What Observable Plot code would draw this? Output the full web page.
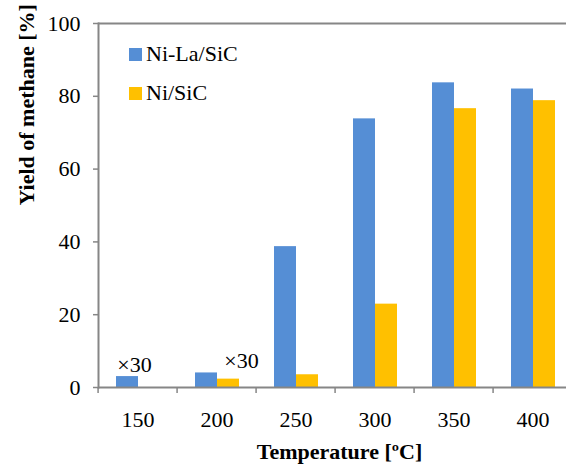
<!DOCTYPE html>
<html><head><meta charset="utf-8">
<script src="https://cdn.jsdelivr.net/npm/d3@7"></script>
<script src="https://cdn.jsdelivr.net/npm/@observablehq/plot@0.6"></script>
<style>
body{margin:0;background:#fff;font-family:'Liberation Serif';}
#wrap{position:relative;width:566px;height:470px;overflow:hidden;font-family:'Liberation Serif';}
.leg{position:absolute;left:129px;font-size:22px;line-height:22px;color:#000;display:flex;align-items:center;white-space:nowrap;font-family:'Liberation Serif';}
.sw{width:13px;height:13px;margin-right:4px}
</style></head><body><div id="wrap"></div>
<script>
const temperatures = ["150","200","250","300","350","400"];
const seriesNames = ["Ni-La/SiC","Ni/SiC"];
const niLaSiC = [3.0, 4.0, 38.7, 73.8, 83.7, 82.0];
const niSiC   = [null, 2.3, 3.5, 22.9, 76.6, 78.8];
const colors = ["#558ED5","#FFC000"];
const yTicks = [0,20,40,60,80,100];
const annotTemps = ["150","200"];
const annotSeries = ["Ni-La/SiC","Ni/SiC"];
const annotText = "×30";
const yTitle = "Yield of methane [%]";
const xTitle = "Temperature [ºC]";

const data = [];
temperatures.forEach((t,i)=>{
  [niLaSiC, niSiC].forEach((arr,j)=>{ if(arr[i]!=null) data.push({t, s: seriesNames[j], v: arr[i]}); });
});
const valueOf = (t,s)=> data.find(d=>d.t===t && d.s===s).v;
const annot = annotTemps.map((t,i)=>({t, s: annotSeries[i], v: valueOf(t, annotSeries[i])}));

const W=566,H=470,mL=95,mR=-8,mT=23,mB=83;
const step=(W-mL-mR)/temperatures.length;
const grey="#868686";
const FONT = "Liberation Serif";

const plot = Plot.plot({
  width: W, height: H, marginLeft: mL, marginRight: mR, marginTop: mT, marginBottom: mB,
  style: {fontFamily: FONT, fontSize: "22px", color: "#000", background: "#fff"},
  fx: {domain: temperatures, padding: 0, label: null},
  x: {domain: seriesNames, paddingInner: 0, paddingOuter: 0.72, axis: null},
  y: {domain: [0,100], ticks: yTicks},
  color: {domain: seriesNames, range: colors},
  marks: [
    Plot.barY(data, {fx:"t", x:"s", y:"v", fill:"s"}),
    Plot.ruleY([0,100], {stroke: grey, strokeWidth: 2}),
    Plot.frame({anchor:"left", facet:"super", stroke: grey, strokeWidth: 2}),
    Plot.axisY({ticks: yTicks, tickSize: 5, tickPadding: 13, stroke: grey, strokeWidth: 1.5, fill: "#000", fontSize: 22, fontFamily: FONT, label: null}),
    Plot.axisFx({anchor:"bottom", tickSize: 0, tickPadding: 24, fontSize: 22, fontFamily: FONT, fill: "#000", label: null}),
    Plot.axisFx({anchor:"bottom", tickSize: 6, tickFormat: ()=>"", dx: -step/2, stroke: grey, strokeWidth: 1.5, label: null}),
    Plot.text(annot.slice(0,1), {fx:"t", x:"s", y:"v", text: ()=>annotText, dx: 7, dy: -11.5, fontSize: 22, fontFamily: FONT, fill:"#000"}),
    Plot.text(annot.slice(1,2), {fx:"t", x:"s", y:"v", text: ()=>annotText, dx: 13, dy: -18.6, fontSize: 22, fontFamily: FONT, fill:"#000"}),
    Plot.text([yTitle], {facet:"super", frameAnchor:"left", rotate:-90, dx:-72, fontSize:22, fontWeight:"bold", fontFamily: FONT, fill:"#000"}),
    Plot.text([xTitle], {facet:"super", frameAnchor:"bottom", dx:4, dy:71, fontSize:22, fontWeight:"bold", fontFamily: FONT, fill:"#000"})
  ]
});
const wrap = document.getElementById("wrap");
wrap.appendChild(plot);
const legTops=[43,82];
seriesNames.forEach((s,i)=>{
  const d=document.createElement("div"); d.className="leg"; d.style.top=legTops[i]+"px";
  const sw=document.createElement("div"); sw.className="sw"; sw.style.background=colors[i];
  d.appendChild(sw); d.appendChild(document.createTextNode(s)); wrap.appendChild(d);
});
</script></body></html>
